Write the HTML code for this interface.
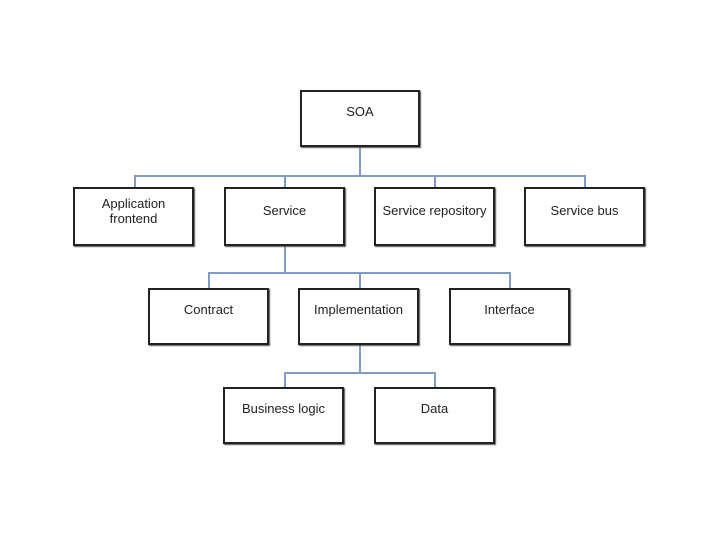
<!DOCTYPE html>
<html><head><style>
body{margin:0;width:720px;height:540px;background:#fff;position:relative;overflow:hidden;font-family:"Liberation Sans",sans-serif;}
.b{position:absolute;box-sizing:border-box;border:2px solid #222;background:#fff;box-shadow:1px 1px 1px #555;text-align:center;font-size:13px;color:#222;padding-top:7px;line-height:15px;}
.l{position:absolute;background:#7f9dc4;}
</style></head><body>
<div class="l" style="left:359px;top:146px;width:2px;height:31px"></div>
<div class="l" style="left:134px;top:175px;width:452px;height:2px"></div>
<div class="l" style="left:134px;top:175px;width:2px;height:12px"></div>
<div class="l" style="left:284px;top:175px;width:2px;height:12px"></div>
<div class="l" style="left:434px;top:175px;width:2px;height:12px"></div>
<div class="l" style="left:584px;top:175px;width:2px;height:12px"></div>
<div class="l" style="left:284px;top:246px;width:2px;height:28px"></div>
<div class="l" style="left:208px;top:272px;width:303px;height:2px"></div>
<div class="l" style="left:208px;top:272px;width:2px;height:16px"></div>
<div class="l" style="left:359px;top:272px;width:2px;height:16px"></div>
<div class="l" style="left:509px;top:272px;width:2px;height:16px"></div>
<div class="l" style="left:359px;top:345px;width:2px;height:29px"></div>
<div class="l" style="left:284px;top:372px;width:152px;height:2px"></div>
<div class="l" style="left:284px;top:372px;width:2px;height:15px"></div>
<div class="l" style="left:434px;top:372px;width:2px;height:15px"></div>

<div class="b" style="left:300px;top:90px;width:120px;height:57px;padding-top:12px">SOA</div>
<div class="b" style="left:73px;top:187px;width:121px;height:59px;padding-top:7px">Application<br>frontend</div>
<div class="b" style="left:224px;top:187px;width:121px;height:59px;padding-top:14px">Service</div>
<div class="b" style="left:374px;top:187px;width:121px;height:59px;padding-top:14px">Service repository</div>
<div class="b" style="left:524px;top:187px;width:121px;height:59px;padding-top:14px">Service bus</div>
<div class="b" style="left:148px;top:288px;width:121px;height:57px;padding-top:12px">Contract</div>
<div class="b" style="left:298px;top:288px;width:121px;height:57px;padding-top:12px">Implementation</div>
<div class="b" style="left:449px;top:288px;width:121px;height:57px;padding-top:12px">Interface</div>
<div class="b" style="left:223px;top:387px;width:121px;height:57px;padding-top:12px">Business logic</div>
<div class="b" style="left:374px;top:387px;width:121px;height:57px;padding-top:12px">Data</div>
</body></html>
